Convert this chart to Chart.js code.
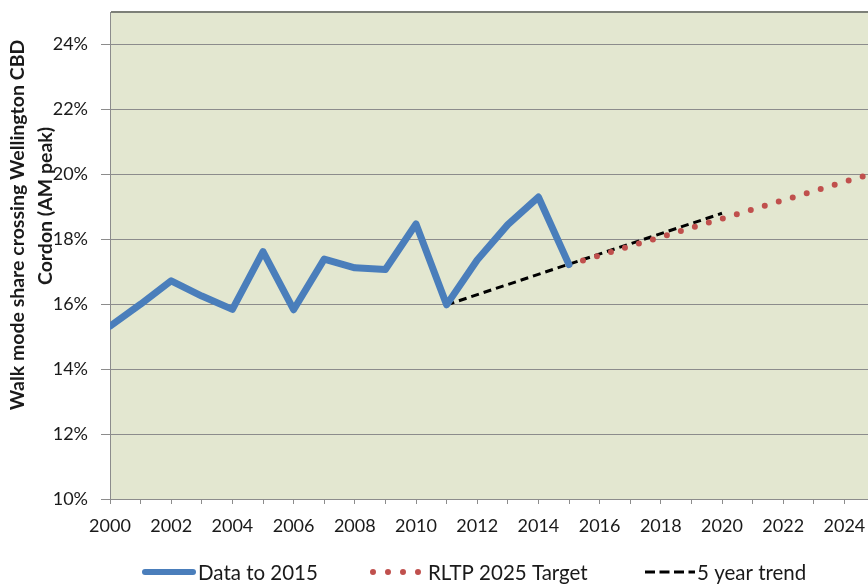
<!DOCTYPE html>
<html>
<head>
<meta charset="utf-8">
<script src="https://cdn.jsdelivr.net/npm/chart.js@4/dist/chart.umd.min.js"></script>
<style>
  html, body { margin: 0; padding: 0; background: #fff; overflow: hidden; }
  #wrap { width: 868px; height: 586px; overflow: hidden; position: relative; }
  canvas { display: block; }
</style>
</head>
<body>
<div id="wrap"><canvas id="chart" width="880" height="586"></canvas></div>
<script>
// Walk mode share, Wellington CBD cordon (AM peak)
const dataYears = [2000, 2001, 2002, 2003, 2004, 2005, 2006, 2007, 2008, 2009, 2010, 2011, 2012, 2013, 2014, 2015];
const walkShare = [15.32, 16.0, 16.72, 16.25, 15.84, 17.62, 15.83, 17.39, 17.12, 17.07, 18.47, 15.98, 17.36, 18.45, 19.3, 17.22];

const targetYears = [2015, 2025];
const targetShare = [17.22, 20.05];

const trendYears = [2011, 2020];
const trendShare = [15.98, 18.8];

const seriesNames = ['Data to 2015', 'RLTP 2025 Target', '5 year trend'];
const yTitle = ['Walk mode share crossing Wellington CBD', 'Cordon (AM peak)'];

const COLORS = {
  blue: '#4a7ebb',
  red: '#c0504d',
  black: '#000000',
  plot: '#e3e7d0',
  grid: '#8c8c8c',
  text: '#1a1a1a',
};
const FONT = 'Lato, "Open Sans", sans-serif';

const toPoints = (xs, ys) => xs.map((x, i) => ({ x, y: ys[i] }));

/** 플롯 배경 */
const plotBackground = {
  id: 'plotBackground',
  beforeDraw(chart) {
    const { ctx, chartArea: a } = chart;
    ctx.save();
    ctx.fillStyle = COLORS.plot;
    ctx.fillRect(a.left, a.top, a.right - a.left, a.bottom - a.top);
    ctx.restore();
  },
};

/** y축 제목 (두 줄, 눈금 글자와 겹침) */
const yAxisTitle = {
  id: 'yAxisTitle',
  afterDraw(chart) {
    const ctx = chart.ctx;
    ctx.save();
    ctx.fillStyle = COLORS.text;
    ctx.font = 'bold 19.5px ' + FONT;
    ctx.textAlign = 'center';
    ctx.textBaseline = 'middle';
    const pos = [[18, 225], [46, 206]];
    yTitle.forEach((t, i) => {
      ctx.save();
      ctx.translate(pos[i][0], pos[i][1]);
      ctx.rotate(-Math.PI / 2);
      ctx.fillText(t, 0, 0);
      ctx.restore();
    });
    ctx.restore();
  },
};

/** 범례 */
const customLegend = {
  id: 'customLegend',
  afterDraw(chart) {
    const ctx = chart.ctx;
    const y = 572;
    const items = [
      { x0: 142, x1: 196, tx: 198 },
      { x0: 370, x1: 422, tx: 428 },
      { x0: 645, x1: 695, tx: 697 },
    ];
    ctx.save();
    chart.data.datasets.forEach((ds, i) => {
      const it = items[i];
      ctx.save();
      ctx.strokeStyle = ds.borderColor;
      ctx.lineWidth = ds.borderWidth;
      ctx.lineCap = ds.borderCapStyle || 'butt';
      if (i === 1) {
        ctx.setLineDash([0, 15]);
        ctx.lineWidth = 6;
        ctx.beginPath();
        ctx.moveTo(it.x0 + 3, y);
        ctx.lineTo(it.x1, y);
        ctx.stroke();
      } else if (i === 2) {
        ctx.setLineDash([10, 4.5]);
        ctx.beginPath();
        ctx.moveTo(it.x0, y);
        ctx.lineTo(it.x1, y);
        ctx.stroke();
      } else {
        ctx.lineWidth = 6;
        ctx.beginPath();
        ctx.moveTo(it.x0 + 3, y);
        ctx.lineTo(it.x1 - 3, y);
        ctx.stroke();
      }
      ctx.restore();
      ctx.fillStyle = COLORS.text;
      ctx.font = '20.5px ' + FONT;
      ctx.textAlign = 'left';
      ctx.textBaseline = 'middle';
      ctx.fillText(ds.label, it.tx, y + 1);
    });
    ctx.restore();
  },
};

new Chart(document.getElementById('chart'), {
  type: 'line',
  data: {
    datasets: [
      {
        label: seriesNames[0],
        data: toPoints(dataYears, walkShare),
        borderColor: COLORS.blue,
        borderWidth: 7,
        borderJoinStyle: 'round',
        borderCapStyle: 'round',
        pointRadius: 0,
        tension: 0,
      },
      {
        label: seriesNames[1],
        data: toPoints(targetYears, targetShare),
        borderColor: COLORS.red,
        borderWidth: 6,
        borderCapStyle: 'round',
        borderDash: [0, 14.6],
        pointRadius: 0,
        tension: 0,
      },
      {
        label: seriesNames[2],
        data: toPoints(trendYears, trendShare),
        borderColor: COLORS.black,
        borderWidth: 3,
        borderDash: [8, 5],
        pointRadius: 0,
        tension: 0,
      },
    ],
  },
  options: {
    responsive: false,
    animation: false,
    layout: { padding: { left: 0, top: 12, right: 5, bottom: 47 } },
    plugins: {
      legend: { display: false },
      tooltip: { enabled: false },
    },
    scales: {
      x: {
        type: 'linear',
        min: 2000,
        max: 2025,
        afterFit: (s) => { s.height = 40; s.paddingLeft = 0; s.paddingRight = 0; },
        border: { color: COLORS.grid, width: 1 },
        grid: {
          drawOnChartArea: false,
          tickLength: 5,
          tickColor: COLORS.grid,
        },
        ticks: {
          stepSize: 1,
          autoSkip: false,
          maxRotation: 0,
          padding: 11,
          color: COLORS.text,
          font: { family: FONT, size: 18 },
          callback: (v) => (v % 2 === 0 && v < 2025 ? String(v) : ''),
        },
      },
      y: {
        min: 10,
        max: 25,
        afterFit: (s) => { s.width = 110; s.paddingTop = 0; s.paddingBottom = 0; },
        border: { color: COLORS.grid, width: 1 },
        grid: {
          color: (c) => (c.tick && c.tick.value === 25 ? '#7d8078' : COLORS.grid),
          lineWidth: (c) => (c.tick && c.tick.value === 25 ? 2 : 1),
          tickLength: 9,
          tickColor: (c) => (c.tick && c.tick.value === 25 ? 'rgba(0,0,0,0)' : COLORS.grid),
        },
        ticks: {
          stepSize: 1,
          autoSkip: false,
          padding: 13,
          color: COLORS.text,
          font: { family: FONT, size: 18 },
          callback: (v) => (v % 2 === 0 ? v + '%' : (v === 25 ? '' : null)),
        },
      },
    },
  },
  plugins: [plotBackground, yAxisTitle, customLegend],
});
</script>
</body>
</html>
